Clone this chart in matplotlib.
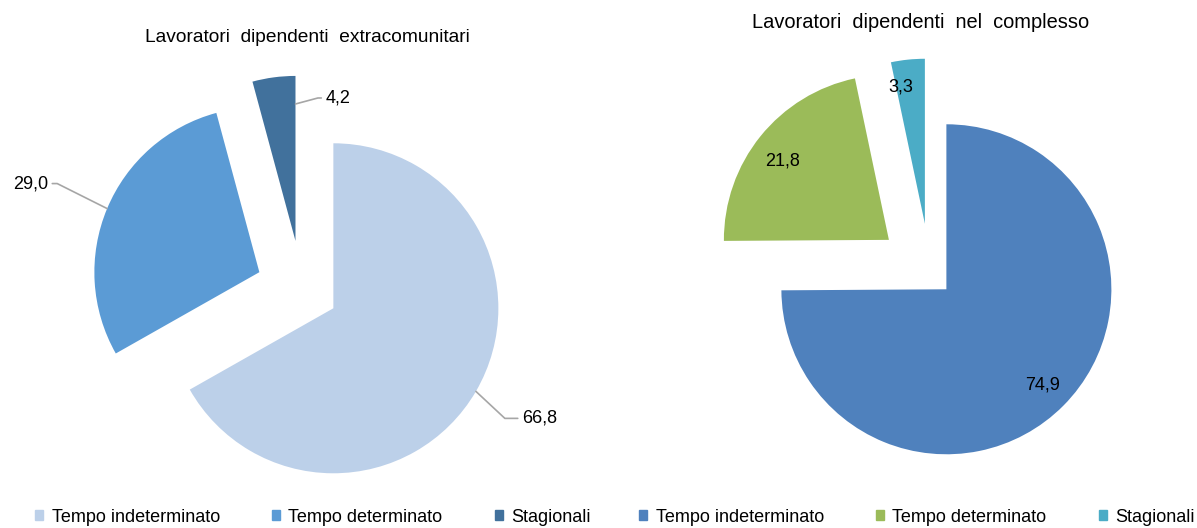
import numpy as np
import matplotlib
matplotlib.use("Agg")
import matplotlib.pyplot as plt

plt.rcParams['font.family'] = ['Liberation Sans', 'DejaVu Sans']

categories = ['Tempo indeterminato', 'Tempo determinato', 'Stagionali']
extra_values = [66.8, 29.0, 4.2]
total_values = [74.9, 21.8, 3.3]

extra_colors = ['#BCD0E9', '#5B9BD5', '#41719C']
total_colors = ['#4F81BD', '#9BBB59', '#4BACC6']

extra_title = 'Lavoratori  dipendenti  extracomunitari'
total_title = 'Lavoratori  dipendenti  nel  complesso'

W, H = 1197, 528
R_PX = 165  # pie radius in pixels
fig = plt.figure(figsize=(W / 100, H / 100), dpi=100)


def pie_axes(cx, cy, lx=1.8, ly=1.45):
    # axes whose data unit equals one pie radius, centred on (cx, cy) pixels from top-left
    w = 2 * lx * R_PX
    h = 2 * ly * R_PX
    ax = fig.add_axes([(cx - w / 2) / W, 1 - (cy + h / 2) / H, w / W, h / H])
    ax.axis('off')
    return ax, lx, ly


def fmt(v):
    return f'{v:.1f}'.replace('.', ',')


def wedge_point(w, ang, frac):
    cx, cy = w.center
    a = np.deg2rad(ang)
    return cx + frac * w.r * np.cos(a), cy + frac * w.r * np.sin(a)


def mid(w):
    return (w.theta1 + w.theta2) / 2


# left pie: non-EU employees
ax1, lx, ly = pie_axes(302, 290)
wedges1, _ = ax1.pie(extra_values, colors=extra_colors, startangle=90, counterclock=False,
                     explode=[0.22, 0.28, 0.30], radius=1, center=(0, 0), frame=False)
ax1.set_xlim(-lx, lx)
ax1.set_ylim(-ly, ly)

leader = dict(arrowstyle='-', color='#A6A6A6', lw=1.2, shrinkA=1, shrinkB=0)
# (anchor angle, anchor radius fraction, text offset px, ha, angleB)
label_specs = [
    (mid(wedges1[0]), 1.0, (46, -27), 'left', -43),
    (mid(wedges1[1]), 1.0, (-59, 25), 'right', -26.6),
    (wedges1[2].theta1, 0.83, (30, 6), 'left', 15),
]
for w, v, (ang, frac, off, ha, angb) in zip(wedges1, extra_values, label_specs):
    xy = wedge_point(w, ang, frac)
    ax1.annotate(fmt(v), xy=xy, xytext=off, textcoords='offset pixels', ha=ha, va='center',
                 fontsize=13, color='#000000',
                 arrowprops=dict(leader, connectionstyle=f'angle,angleA=0,angleB={angb},rad=0'))

# right pie: all employees
ax2, lx, ly = pie_axes(930, 273)
wedges2, _ = ax2.pie(total_values, colors=total_colors, startangle=90, counterclock=False,
                     explode=[0.14, 0.32, 0.30], radius=1, center=(0, 0), frame=False)
ax2.set_xlim(-lx, lx)
ax2.set_ylim(-ly, ly)
inner_pos = [(0.0, 0.82), (2.3, 0.80), (4.0, 0.84)]  # (angle shift, radius fraction)
for w, v, (dang, frac) in zip(wedges2, total_values, inner_pos):
    x, y = wedge_point(w, mid(w) + dang, frac)
    ax2.text(x, y, fmt(v), ha='center', va='center', fontsize=13, color='#000000')

fig.text(307 / W, 1 - 37 / H, extra_title, ha='center', va='center', fontsize=13.8)
fig.text(921 / W, 1 - 22 / H, total_title, ha='center', va='center', fontsize=14.4)

leg_kw = dict(ncol=3, frameon=False, fontsize=13, handlelength=0.45, handleheight=0.45,
              handletextpad=0.45, columnspacing=2.9, loc='center', borderaxespad=0,
              borderpad=0)
h1 = [plt.Rectangle((0, 0), 1, 1, color=c) for c in extra_colors]
h2 = [plt.Rectangle((0, 0), 1, 1, color=c) for c in total_colors]
fig.legend(h1, categories, bbox_to_anchor=(313 / W, 1 - 517 / H), **leg_kw)
fig.legend(h2, categories, bbox_to_anchor=(917 / W, 1 - 517 / H), **leg_kw)

fig.savefig('out.png', dpi=100)
